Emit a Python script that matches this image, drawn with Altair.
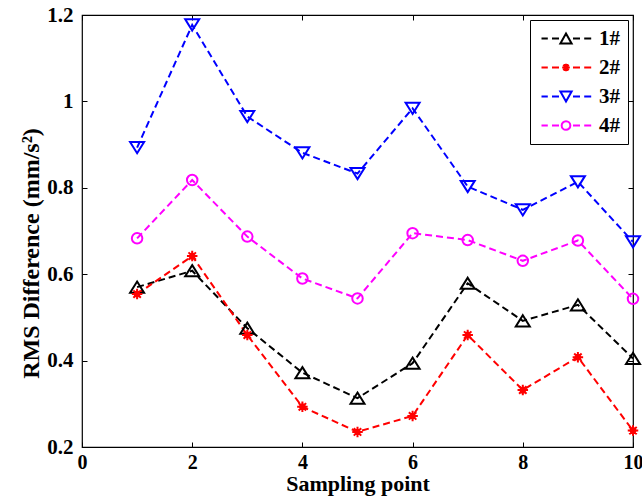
import altair as alt
import pandas as pd

sampling_points = [1, 2, 3, 4, 5, 6, 7, 8, 9, 10]
series_names = ["1#", "2#", "3#", "4#"]
s1 = [0.570, 0.608, 0.475, 0.372, 0.313, 0.394, 0.579, 0.492, 0.529, 0.405]
s2 = [0.554, 0.642, 0.459, 0.293, 0.235, 0.272, 0.459, 0.332, 0.408, 0.238]
s3 = [0.893, 1.177, 0.965, 0.881, 0.833, 0.984, 0.803, 0.749, 0.814, 0.675]
s4 = [0.683, 0.818, 0.687, 0.590, 0.544, 0.695, 0.679, 0.631, 0.678, 0.543]
colors = ["#000000", "#ff0000", "#0000ff", "#ff00ff"]
x_ticks = [0, 2, 4, 6, 8, 10]
y_ticks = [0.2, 0.4, 0.6, 0.8, 1.0, 1.2]

rows = []
for name, vals in zip(series_names, [s1, s2, s3, s4]):
    for xv, v in zip(sampling_points, vals):
        rows.append({"point": xv, "value": v, "series": name})
df = pd.DataFrame(rows)

FONT = "Liberation Serif"

# marker shapes (unit square paths)
TRI_UP = "M0,-0.8L1,0.8L-1,0.8Z"
STAR = ("M0,-0.75L0,0.75M-0.75,0L0.75,0M-0.53,-0.53L0.53,0.53M-0.53,0.53L0.53,-0.53"
        "M-0.2,-0.45L0.2,0.45M0.2,-0.45L-0.2,0.45M-0.45,-0.2L0.45,0.2M-0.45,0.2L0.45,-0.2")
TRI_DOWN = "M0,0.8L1,-0.8L-1,-0.8Z"
CIRCLE = "M0.75,0A0.75,0.75,0,1,1,-0.75,0A0.75,0.75,0,1,1,0.75,0Z"
markers = [TRI_UP, STAR, TRI_DOWN, CIRCLE]

# legend symbols: dashed line with marker in the middle
DASHES = "M-1,0H-0.1M0.5,0H1.5M3.5,0H4.5M5.1,0H6.1"
LEG_TRI_UP = DASHES + "M2.5,-0.7L3.3,0.7L1.7,0.7Z"
LEG_STAR = (DASHES + "M2.5,-0.55L2.5,0.55M1.95,0L3.05,0M2.11,-0.39L2.89,0.39M2.11,0.39L2.89,-0.39"
            "M2.3,-0.5L2.7,0.5M2.7,-0.5L2.3,0.5")
LEG_TRI_DOWN = DASHES + "M2.5,0.7L3.3,-0.7L1.7,-0.7Z"
LEG_CIRCLE = DASHES + "M3.12,0A0.62,0.62,0,1,1,1.88,0A0.62,0.62,0,1,1,3.12,0Z"
legend_markers = [LEG_TRI_UP, LEG_STAR, LEG_TRI_DOWN, LEG_CIRCLE]

xscale = alt.Scale(domain=[0, 10], nice=False)
yscale = alt.Scale(domain=[0.2, 1.2], nice=False, zero=False)
cscale = alt.Scale(domain=series_names, range=colors)

x_bottom = alt.Axis(values=x_ticks, orient="bottom", offset=-5, tickSize=5, domain=False,
                    grid=False, labelFont=FONT, labelFontSize=20, labelFontWeight="bold",
                    labelColor="black", labelPadding=5, labelFlush=False, labelOverlap=False,
                    tickColor="black", title="Sampling point", titleFont=FONT,
                    titleFontSize=22, titleFontWeight="bold", titleColor="black", titlePadding=1)
y_left = alt.Axis(values=y_ticks, orient="left", offset=-5, tickSize=5, domain=False,
                  grid=False, labelFont=FONT, labelFontSize=21, labelFontWeight="bold",
                  labelColor="black", labelPadding=9, labelFlush=False, labelOverlap=False,
                  format="~g", tickColor="black", title="RMS Difference (mm/s²)",
                  titleFont=FONT, titleFontSize=24, titleFontWeight="bold",
                  titleColor="black", titlePadding=3, titleY=238)
x_top = alt.Axis(values=x_ticks, orient="top", offset=-5, tickSize=5, domain=False,
                 grid=False, labels=False, title=None, tickColor="black")
y_right = alt.Axis(values=y_ticks, orient="right", offset=-5, tickSize=5, domain=False,
                   grid=False, labels=False, title=None, tickColor="black")

base = alt.Chart(df)

lines = base.mark_line(strokeDash=[7, 4], strokeWidth=2).encode(
    x=alt.X("point:Q", scale=xscale, axis=x_bottom),
    y=alt.Y("value:Q", scale=yscale, axis=y_left),
    color=alt.Color("series:N", scale=cscale, legend=None),
    detail="series:N",
)

points = base.mark_point(filled=False, strokeWidth=2, size=196, opacity=1).encode(
    x=alt.X("point:Q", scale=xscale, axis=x_top),
    y=alt.Y("value:Q", scale=yscale, axis=y_right),
    color=alt.Color("series:N", scale=cscale, legend=None),
    shape=alt.Shape("series:N", scale=alt.Scale(domain=series_names, range=markers), legend=None),
)

leg = alt.Legend(title=None, orient="top-right", offset=5, padding=8,
                 strokeColor="black", fillColor="white", cornerRadius=0,
                 labelFont=FONT, labelFontSize=21, labelFontWeight="bold", labelColor="black",
                 symbolSize=196, symbolStrokeWidth=2, labelOffset=40, rowPadding=7,
                 symbolType="circle")

legend_layer = base.mark_point(filled=False, strokeWidth=2, size=196, opacity=1).encode(
    x=alt.X("point:Q", scale=xscale, axis=None),
    y=alt.Y("value:Q", scale=yscale, axis=None),
    color=alt.Color("series:N", scale=cscale, legend=leg),
    shape=alt.Shape("series:N", scale=alt.Scale(domain=series_names, range=legend_markers), legend=leg),
).transform_filter("false")

chart = alt.layer(lines, points, legend_layer).resolve_scale(
    color="independent", shape="independent"
).resolve_axis(
    x="independent", y="independent"
).properties(
    width=551, height=432,
    autosize=alt.AutoSizeParams(type="none"),
    padding={"left": 82, "top": 15, "right": 9, "bottom": 55},
    background="white",
).configure_view(stroke="black", strokeWidth=1.2)

chart.save("out.html", embed_options={"renderer": "svg", "actions": False})
